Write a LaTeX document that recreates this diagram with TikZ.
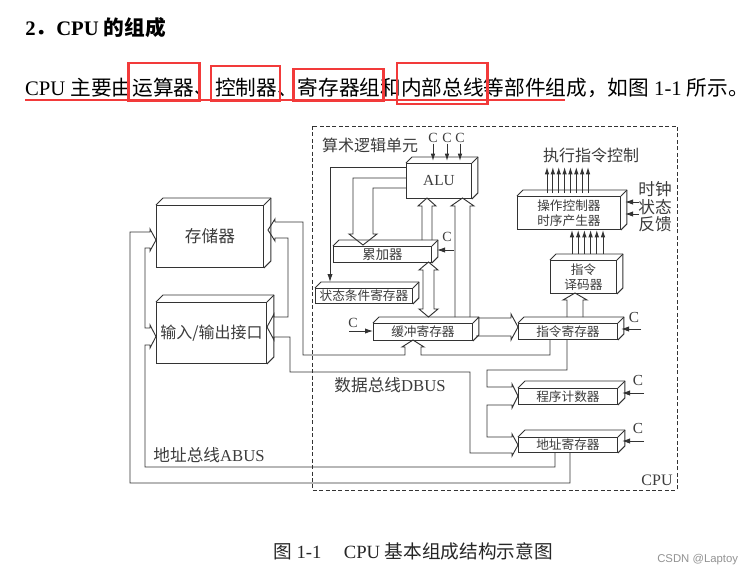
\documentclass[tikz,border=0pt]{standalone}
\usepackage{fontspec}
\setmainfont{Liberation Serif}
\newfontfamily\cjk{Noto Sans CJK SC}
\newfontfamily\csdnfont{Liberation Sans}
\usetikzlibrary{calc,arrows.meta}
\definecolor{ln}{HTML}{333333}
\definecolor{tx}{HTML}{3C3C3C}
\definecolor{rd}{HTML}{F23A3A}
\newcommand\fsz[1]{\fontsize{#1}{#1}\selectfont}
\newcommand\bx[8]{%
  \node[boxface, minimum width={(#4-#2)*0.75pt}, minimum height={(#5-#3)*0.75pt}, anchor=north west, font=#7] (#1) at (#2,#3) {#8};
  \draw[boxline] (#1.north west) -- ++(#6,-#6) -- ($(#1.north east)+(#6,-#6)$) -- ($(#1.south east)+(#6,-#6)$) -- (#1.south east);
  \draw[boxline] (#1.north east) -- ++(#6,-#6);
}
\begin{document}
\begin{tikzpicture}[x=0.75pt, y=-0.75pt,
  boxface/.style={draw=ln, line width=0.7pt, fill=white, inner sep=0, text=tx, align=center},
  boxline/.style={draw=ln, line width=0.7pt, line join=round},
  bus/.style={draw=ln, line width=0.7pt, line join=miter},
  sarr/.style={draw=ln, line width=0.7pt, -{Latex[length=6pt,width=4pt]}},
  uarr/.style={draw=ln, line width=0.7pt, -{Latex[length=5.5pt,width=3.4pt]}},
  lbl/.style={text=tx, inner sep=0},
  ctext/.style={text=tx, inner sep=0.5pt, font=\fsz{10.5}},
  seg/.style={inner sep=0, outer sep=0, anchor=base west, font=\fsz{15.5}, text=black}
  ]
\useasboundingbox[fill=white] (0,0) rectangle (750,576);

% heading and sentence
\node[anchor=base west, inner sep=0, font=\bfseries\fsz{15.5}] (title) at (25,35) {2{\cjk\bfseries ．}CPU {\cjk\bfseries 的组成}};
\node[seg] (s1) at (25,95) {CPU {\cjk 主要由}};
\node[seg] (s2) at (s1.base east) {\cjk 运算器};
\node[seg] (s3) at (s2.base east) {\cjk 、};
\node[seg] (s4) at (s3.base east) {\cjk 控制器};
\node[seg] (s5) at (s4.base east) {\cjk 、};
\node[seg] (s6) at (s5.base east) {\cjk 寄存器组};
\node[seg] (s7) at (s6.base east) {\cjk 和};
\node[seg] (s8) at (s7.base east) {\cjk 内部总线};
\node[seg] (s9) at (s8.base east) {{\cjk 等部件组成，如图} 1-1 {\cjk 所示。}};
\coordinate (t1) at (0,63);
\coordinate (t2) at (0,66);
\coordinate (t3) at (0,69);
\coordinate (b1) at (0,101);
\coordinate (b2) at (0,104);
\draw[rd, line width=1.9pt] ($(s2.west |- t1)+(-4,0)$) rectangle ($(s2.east |- b1)+(5,0)$);
\draw[rd, line width=1.9pt] ($(s4.west |- t2)+(-4,0)$) rectangle ($(s4.east |- b1)+(3,0)$);
\draw[rd, line width=1.9pt] ($(s6.west |- t3)+(-4,0)$) rectangle ($(s6.east |- b1)+(3,0)$);
\draw[rd, line width=1.9pt] ($(s8.west |- t1)+(-4,0)$) rectangle ($(s8.east |- b2)+(4,0)$);
\draw[rd, line width=2.2pt] (25,100) -- (565,100);

% CPU frame
\draw[ln, line width=0.5pt, dash pattern=on 3pt off 1.8pt] (312,126) rectangle (677,490);

% boxes
\bx{mem}{156}{205}{263}{267}{7}{\cjk\fsz{12.5}}{存储器}
\bx{io}{156}{302}{266}{363}{7}{\cjk\fsz{12}}{输入/输出接口}
\bx{alu}{406}{163}{471}{198}{6}{\fsz{11.5}}{ALU}
\bx{acc}{333}{246}{431}{262}{6}{\cjk\fsz{10}}{累加器}
\bx{psw}{315}{288}{412}{303}{6}{\cjk\fsz{9.5}}{状态条件寄存器}
\bx{buf}{373}{323}{472}{340}{6}{\cjk\fsz{9.5}}{缓冲寄存器}
\bx{ir}{518}{323}{617}{339}{6}{\cjk\fsz{9.5}}{指令寄存器}
\bx{pc}{518}{388}{617}{404}{7}{\cjk\fsz{9.5}}{程序计数器}
\bx{ar}{518}{437}{617}{452}{7}{\cjk\fsz{9.5}}{地址寄存器}
\bx{id}{550}{260}{616}{293}{6}{\cjk\fontsize{9.5}{11.5}\selectfont}{指令\\译码器}
\bx{oc}{517}{196}{620}{229}{6}{\cjk\fontsize{9.5}{11.5}\selectfont}{操作控制器\\时序产生器}

% labels
\node[lbl, font=\cjk\fsz{12}] (alulbl) at (370,145) {算术逻辑单元};
\node[lbl, font=\cjk\fsz{12}] (exec) at (591,155) {执行指令控制};
\node[lbl, font=\cjk\fontsize{12.5}{13}\selectfont, align=center] (clk) at (655,207) {时钟\\状态\\反馈};
\node[lbl, font=\fsz{12.5}] (dbus) at (390,385) {{\cjk 数据总线}DBUS};
\node[lbl, font=\fsz{12.5}] (abus) at (209,455) {{\cjk 地址总线}ABUS};
\node[lbl, font=\fsz{12}] (cpu) at (657,480) {CPU};
\node[lbl, font=\fsz{14}, anchor=west, text=black!85] (cap) at (273,551) {{\cjk 图} 1-1\hspace{1.2em}CPU {\cjk 基本组成结构示意图}};
\node[lbl, font=\csdnfont\fsz{8.5}, text=gray!85, anchor=west] (wm) at (657,560) {CSDN @Laptoy};

% data bus DBUS
\draw[bus] (275,222) -- (303,222) -- (303,355) -- (405,355) -- (405,347) -- (402,347) -- (413,340) -- (424,347) -- (421,347) -- (421,355) -- (550,355) -- (550,339);
\draw[bus] (567,339) -- (567,370) -- (487,370) -- (487,387) -- (512,387) -- (512,384) -- (518,396) -- (512,408) -- (512,405) -- (487,405) -- (487,437) -- (512,437) -- (512,434) -- (518,445) -- (512,456) -- (512,453) -- (470,453) -- (470,372) -- (290,372) -- (290,337) -- (274,337) -- (274,340) -- (267,327) -- (274,314) -- (274,317) -- (288,317) -- (288,238) -- (275,238) -- (275,241) -- (268,230) -- (275,219) -- (275,222);

% address bus ABUS
\draw[bus] (555,452) -- (555,467) -- (145,467) -- (145,345) -- (150,345) -- (150,348) -- (156,336.5) -- (150,325) -- (150,328) -- (145,328) -- (145,248) -- (150,248) -- (150,251) -- (156,240) -- (150,229) -- (150,232) -- (130,232) -- (130,483) -- (570,483) -- (570,452);

% ALU area
\draw[sarr] (406,167) -- (330,167) -- (330,282);
\draw[bus] (406,178) -- (353,178) -- (353,234) -- (349,234) -- (363,245) -- (377,234) -- (373,234) -- (373,188) -- (406,188);
\draw[bus] (422,240) -- (422,206) -- (418,206) -- (427,198) -- (436,206) -- (432,206) -- (432,240);
\draw[bus] (455,317) -- (455,206) -- (451,206) -- (462.5,198) -- (474,206) -- (470,206) -- (470,317);
\draw[bus] (423,270) -- (419,270) -- (428.5,262) -- (438,270) -- (434,270) -- (434,309) -- (438,309) -- (428.5,317) -- (419,309) -- (423,309) -- cycle;
\draw[bus] (477,318) -- (511,318) -- (511,314) -- (518,327) -- (511,340) -- (511,336) -- (476,336);
\draw[bus] (567,317) -- (567,300) -- (563,300) -- (575,293) -- (587,300) -- (583,300) -- (583,317);

% control arrows
\foreach \i in {0,...,7} \draw[uarr] (547+\i*5.86,193) -- (547+\i*5.86,167);
\foreach \i in {0,...,5} \draw[uarr] (572+\i*6.2,254) -- (572+\i*6.2,230);
\draw[sarr] (639,202) -- (625,202);
\draw[sarr] (639,214) -- (625,214);

% clock inputs C
\foreach \x/\n in {433/ca,447/cb,460/cc} {\node[ctext] (\n) at (\x,138) {C}; \draw[uarr] (\n.south) -- (\x,161);}
\node[ctext] (cacc) at (447,237) {C};
\draw[sarr] (454,250) -- (437,250);
\node[ctext] (cbuf) at (353,323) {C};
\draw[sarr] (349,331) -- (373,331);
\node[ctext, font=\fsz{11.5}] (cir) at (634,317) {C};
\draw[sarr] (641,329) -- (621,329);
\node[ctext, font=\fsz{11.5}] (cpc) at (638,380) {C};
\draw[sarr] (644,393) -- (622,393);
\node[ctext, font=\fsz{11.5}] (car) at (638,428) {C};
\draw[sarr] (644,441) -- (622,441);
\end{tikzpicture}
\end{document}
